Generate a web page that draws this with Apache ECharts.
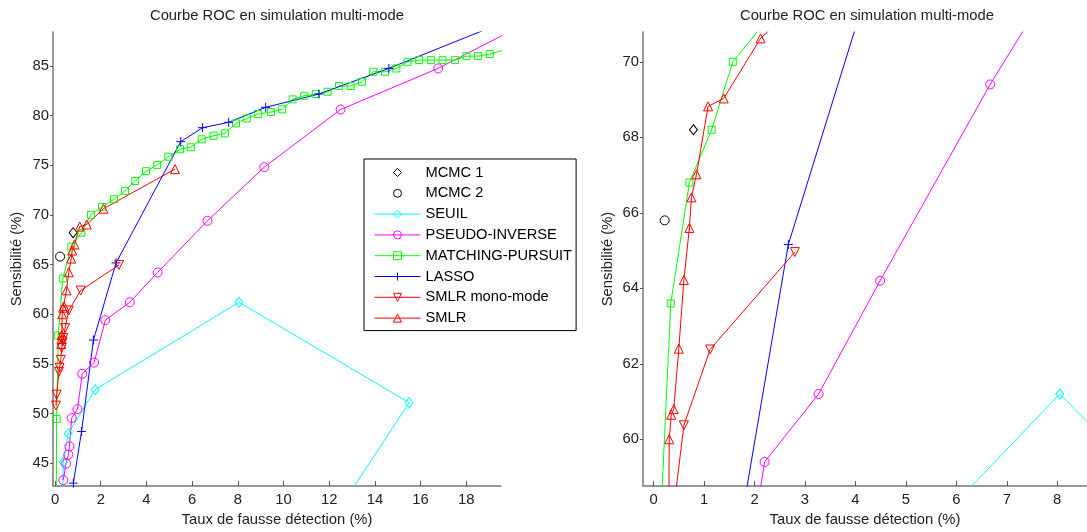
<!DOCTYPE html>
<html>
<head>
<meta charset="utf-8">
<script src="https://cdn.jsdelivr.net/npm/echarts@6/dist/echarts.min.js"></script>
<style>
html,body{margin:0;padding:0;background:#fff;}
#chart{width:1087px;height:532px;}
</style>
</head>
<body>
<div id="chart"></div>
<script>
// ---- data (x = Taux de fausse détection %, y = Sensibilité %) ----
const mcmc1X = [0.79];
const mcmc1Y = [68.2];
const mcmc2X = [0.22];
const mcmc2Y = [65.8];
const seuilX = [0.33, 0.36, 0.58, 1.75, 8.05, 15.5, 12.7];
const seuilY = [42.0, 45.1, 48.0, 52.4, 61.2, 51.1, 41.3];
const pinvX = [0.36, 0.48, 0.58, 0.63, 0.73, 0.98, 1.19, 1.71, 2.2, 3.27, 4.49, 6.67, 9.16, 12.5, 16.77, 20.5];
const pinvY = [43.3, 44.96, 45.86, 46.7, 49.55, 50.45, 54.0, 55.13, 59.4, 61.2, 64.2, 69.4, 74.8, 80.6, 84.74, 89.14];
const mpX = [0.05, 0.07, 0.14, 0.34, 0.71, 1.15, 1.57, 2.06, 2.58, 3.06, 3.51, 3.98, 4.47, 4.96, 5.47, 5.94, 6.42, 6.94, 7.44, 7.92, 8.39, 8.89, 9.45, 9.94, 10.4, 10.91, 11.42, 11.93, 12.43, 12.94, 13.43, 13.93, 14.44, 14.94, 15.43, 15.94, 16.45, 16.96, 17.5, 18.01, 18.52, 19.03, 19.6];
const mpY = [41.0, 49.45, 57.85, 63.6, 66.8, 68.2, 70.0, 70.8, 71.57, 72.41, 73.41, 74.39, 75.02, 75.85, 76.6, 76.8, 77.6, 77.96, 78.2, 79.2, 79.7, 80.15, 80.35, 80.62, 81.62, 81.98, 82.16, 82.39, 82.96, 82.96, 83.39, 84.4, 84.4, 84.73, 85.4, 85.57, 85.57, 85.57, 85.57, 85.97, 85.97, 86.18, 86.55];
const lassoX = [0.8, 1.16, 1.68, 2.67, 5.5, 6.46, 7.6, 9.22, 11.55, 14.61, 20.0];
const lassoY = [43.0, 48.2, 57.4, 65.16, 77.36, 78.77, 79.31, 80.82, 82.16, 84.74, 89.72];
const monoX = [0.04, 0.07, 0.17, 0.2, 0.25, 0.29, 0.33, 0.36, 0.44, 0.6, 1.12, 2.8];
const monoY = [50.8, 51.9, 54.2, 54.6, 55.4, 56.6, 57.25, 57.6, 58.6, 60.37, 62.38, 64.96];
const smlrX = [0.27, 0.29, 0.3, 0.31, 0.35, 0.4, 0.5, 0.6, 0.71, 0.75, 0.85, 1.08, 1.39, 2.12, 5.25];
const smlrY = [57.0, 57.5, 57.9, 60.0, 60.65, 60.8, 62.4, 64.22, 65.6, 66.41, 67.02, 68.82, 69.03, 70.62, 74.6];

const seriesNames = ['MCMC 1', 'MCMC 2', 'SEUIL', 'PSEUDO-INVERSE', 'MATCHING-PURSUIT', 'LASSO', 'SMLR mono-mode', 'SMLR'];
const titleText = 'Courbe ROC en simulation multi-mode';
const xName = 'Taux de fausse détection (%)';
const yName = 'Sensibilité (%)';
const leftXTicks = [0, 2, 4, 6, 8, 10, 12, 14, 16, 18];
const leftYTicks = [45, 50, 55, 60, 65, 70, 75, 80, 85];
const rightXTicks = [0, 1, 2, 3, 4, 5, 6, 7, 8];
const rightYTicks = [60, 62, 64, 66, 68, 70];

const FONT = '"Liberation Sans", Arial, Helvetica, sans-serif';
const FS = 14.8;
const PLUS = 'path://M5,0 L5,10 M0,5 L10,5';

function pairs(xs, ys) { return xs.map((x, i) => [x, ys[i]]); }

const defs = [
  { name: 'MCMC 1', xs: mcmc1X, ys: mcmc1Y, color: '#000000', symbol: 'diamond', size: [8, 10], line: false },
  { name: 'MCMC 2', xs: mcmc2X, ys: mcmc2Y, color: '#000000', symbol: 'circle', size: 9, line: false },
  { name: 'SEUIL', xs: seuilX, ys: seuilY, color: '#00FFFF', symbol: 'diamond', size: [8, 10], line: true },
  { name: 'PSEUDO-INVERSE', xs: pinvX, ys: pinvY, color: '#FF00FF', symbol: 'circle', size: 9, line: true },
  { name: 'MATCHING-PURSUIT', xs: mpX, ys: mpY, color: '#00FF00', symbol: 'rect', size: 7, line: true },
  { name: 'LASSO', xs: lassoX, ys: lassoY, color: '#0000FF', symbol: PLUS, size: 9, line: true },
  { name: 'SMLR mono-mode', xs: monoX, ys: monoY, color: '#FF0000', symbol: 'triangle', size: 9, rotate: 180, line: true },
  { name: 'SMLR', xs: smlrX, ys: smlrY, color: '#FF0000', symbol: 'triangle', size: 9, line: true }
];

const series = [];
[0, 1].forEach(ax => {
  defs.forEach(d => {
    series.push({
      type: 'line',
      name: d.name,
      xAxisIndex: ax,
      yAxisIndex: ax,
      data: pairs(d.xs, d.ys),
      clip: true,
      symbol: d.symbol,
      symbolSize: d.size,
      symbolRotate: d.rotate || 0,
      showAllSymbol: true,
      lineStyle: { color: d.line ? d.color : 'rgba(0,0,0,0)', width: d.line ? 1 : 0 },
      itemStyle: { color: 'rgba(255,255,255,0)', borderColor: d.color, borderWidth: 1 },
      emphasis: { disabled: true },
      animation: false,
      z: 3
    });
  });
});

function xAxisOpt(idx, min, max, ticks) {
  return {
    type: 'value', gridIndex: idx, min: min, max: max,
    name: xName, nameLocation: 'middle', nameGap: 24,
    nameTextStyle: { fontFamily: FONT, fontSize: FS, color: '#222' },
    axisLine: { show: true, onZero: false, lineStyle: { color: '#777', width: 1.5 } },
    axisTick: { show: true, inside: true, length: 5, customValues: ticks, lineStyle: { color: '#555' } },
    axisLabel: { customValues: ticks, margin: 6, fontFamily: FONT, fontSize: FS, color: '#222' },
    splitLine: { show: false }
  };
}
function yAxisOpt(idx, min, max, ticks, gap) {
  return {
    type: 'value', gridIndex: idx, min: min, max: max,
    name: yName, nameLocation: 'middle', nameGap: gap,
    nameTextStyle: { fontFamily: FONT, fontSize: FS, color: '#222' },
    axisLine: { show: true, onZero: false, lineStyle: { color: '#777', width: 1.5 } },
    axisTick: { show: true, inside: false, length: 3, customValues: ticks, lineStyle: { color: '#555' } },
    axisLabel: { customValues: ticks, margin: 4, fontFamily: FONT, fontSize: FS, color: '#222' },
    splitLine: { show: false }
  };
}

const chart = echarts.init(document.getElementById('chart'), null, { renderer: 'canvas' });
chart.setOption({
  animation: false,
  backgroundColor: '#ffffff',
  title: [
    { text: titleText, left: 277, top: 8, textAlign: 'center', padding: 0,
      textStyle: { fontFamily: FONT, fontSize: FS, fontWeight: 'normal', color: '#222' } },
    { text: titleText, left: 867, top: 8, textAlign: 'center', padding: 0,
      textStyle: { fontFamily: FONT, fontSize: FS, fontWeight: 'normal', color: '#222' } }
  ],
  grid: [
    { left: 53, top: 32, width: 448, height: 455, containLabel: false },
    { left: 643, top: 32, width: 448, height: 455, containLabel: false }
  ],
  xAxis: [
    xAxisOpt(0, -0.09, 19.52, leftXTicks),
    xAxisOpt(1, -0.21, 8.59, rightXTicks)
  ],
  yAxis: [
    yAxisOpt(0, 42.7, 88.4, leftYTicks, 29),
    yAxisOpt(1, 58.76, 70.79, rightYTicks, 28)
  ],
  legend: {
    data: seriesNames,
    orient: 'vertical',
    left: 364, top: 159,
    padding: [6, 4, 5, 10],
    itemWidth: 46, itemHeight: 10, itemGap: 5.8,
    selectedMode: false,
    backgroundColor: '#ffffff',
    borderColor: '#000000', borderWidth: 1, borderRadius: 0,
    itemStyle: { borderWidth: 1 },
    lineStyle: { width: 1 },
    textStyle: { fontFamily: FONT, fontSize: 14.7, color: '#000' },
    z: 10
  },
  series: series
});
</script>
</body>
</html>
